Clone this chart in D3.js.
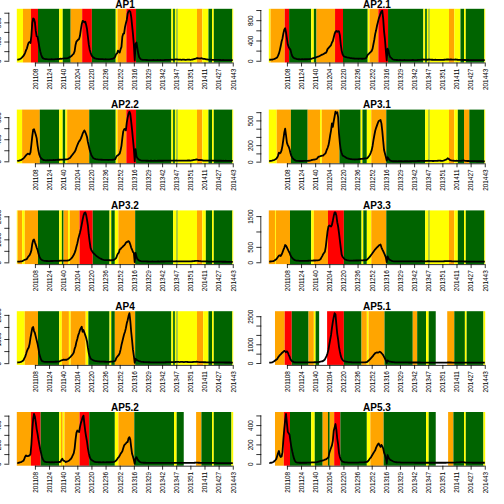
<!DOCTYPE html>
<html><head><meta charset="utf-8">
<script src="https://cdn.jsdelivr.net/npm/d3@7"></script>
<style>body{margin:0;background:#fff}svg{display:block}</style>
</head><body><svg id="c" width="504" height="504"></svg>
<script>
const panelNames = ["AP1","AP2.1","AP2.2","AP3.1","AP3.2","AP3.3","AP4","AP5.1","AP5.2","AP5.3"];
const xTickLabels = ["201108","201124","201140","201204","201220","201236","201252","201316","201329","201342","201347","201351","201411","201427","201443"];
const xTickIndex = [20,36,52,68,84,100,116,132,148,164,180,196,212,228,244];
const yTickStep = [200,200,200,100,500,500,500,500,100,100];
const bandColors = {O:"#FFA500",R:"#FF0000",G:"#006400",Y:"#FFFF00",W:null};

// weekly status colour runs (code + number of weeks)
const bands_AP1  = "Y7 O9 R8 G24 Y4 G9 O13 R11 G27 Y2 O10 R11 G40 Y2 G2 Y2 G1 Y22 O6 Y7 G4 Y2 G21 Y1";
const bands_AP21 = "Y2 O16 R5 G25 Y3 G3 O21 R9 G28 Y2 O10 R11 G40 Y2 G2 Y2 G1 Y22 O6 Y7 G4 Y2 G21 Y1";
const bands_AP22 = "Y6 O20 G22 Y4 G3 Y2 O25 G30 Y2 O10 R11 G40 Y2 G2 Y2 G1 Y22 O6 Y7 G4 Y2 G21 Y1";
const bands_AP31 = "Y9 O16 G19 O14 Y2 O20 G24 Y2 G5 Y5 O17 G44 Y4 G1 Y22 O6 Y4 G7 O6 G17 Y1";
const bands_AP32 = "Y1 O5 Y3 O15 G24 Y3 G2 O5 Y2 O11 R15 G19 Y2 G4 Y4 O19 G43 Y4 G1 Y22 O6 Y4 G7 Y2 G21 Y1";
const bands_AP33 = "O7 Y1 O16 G24 Y3 O16 R18 G20 Y2 G4 Y5 O17 G44 Y4 G1 Y22 O6 Y4 G7 Y2 G21 Y1";
const bands_AP4  = "Y9 O15 G24 Y3 O8 Y2 O17 Y3 G24 Y2 G4 O23 G41 Y2 G2 Y2 G1 Y22 O7 Y6 G4 Y2 G21 Y1";
const bands_AP51 = "W7 O11 R8 G19 O6 Y2 G4 W9 R19 G20 O6 Y2 O18 G32 O5 G10 Y3 G8 W13 O8 G12 Y2 G19 Y2";
const bands_AP52 = "O16 R11 G21 Y2 O2 Y2 O17 R11 G29 Y4 O18 G45 Y3 G8 W14 O6 G12 Y2 G20 Y2";
const bands_AP53 = "W7 O10 R7 G24 Y4 G9 O6 G2 O5 R7 G30 Y4 O15 G48 Y3 G8 W14 O6 G12 Y2 G20 Y2";

const values_AP1 = [25,25,30,35,45,60,80,100,130,170,
220,260,330,380,390,370,520,780,880,870,
800,620,510,500,400,290,200,130,80,55,
45,40,35,35,32,30,30,28,30,32,
30,28,30,33,35,35,38,36,40,42,
40,44,45,48,50,48,50,55,60,70,
80,95,110,130,150,200,330,400,420,440,
450,520,650,760,830,820,800,815,750,660,
500,340,230,170,120,90,70,60,50,45,
40,38,36,35,35,33,34,32,30,30,
32,30,30,28,30,32,35,38,40,50,
60,90,140,150,210,190,170,240,290,500,
560,570,700,780,850,980,1030,1040,1020,920,
740,560,340,5,350,380,260,150,80,50,
30,25,20,18,18,17,16,16,15,15,
15,14,15,15,16,15,14,14,15,16,
15,15,16,14,14,15,15,16,17,18,
18,20,20,22,25,25,22,20,24,28,
30,28,25,24,22,22,20,22,24,22,
20,20,22,25,24,22,20,22,25,30,
35,40,45,52,55,50,48,45,52,48,
42,40,38,35,30,28,25,24,22,22,
20,20,18,18,20,19,18,17,18,16,
16,15,15,16,15,14,14,15,14,14,
13,14,13,12,12];

const values_AP21 = [20,20,22,22,25,30,35,45,55,65,
100,145,210,290,380,440,540,610,640,560,
440,320,270,240,220,150,95,70,55,45,
40,35,32,30,30,28,28,30,30,28,
30,30,32,30,32,34,35,38,40,45,
50,55,60,65,75,80,87,95,105,115,
120,130,140,150,155,180,230,250,270,290,
310,360,390,460,530,575,590,570,585,580,
500,320,200,130,95,85,75,70,65,62,
60,55,52,50,48,46,45,44,42,42,
42,40,42,44,42,40,40,42,44,48,
60,100,130,140,160,175,195,240,330,420,
530,600,690,760,830,880,930,975,985,830,
580,420,200,5,240,200,110,70,60,40,
25,20,18,16,15,15,14,14,15,14,
14,13,14,15,14,13,13,14,14,13,
14,14,15,15,14,14,13,14,15,16,
16,18,20,22,24,25,24,22,20,20,
22,25,24,22,20,20,18,18,20,18,
17,17,18,18,17,16,17,18,20,22,
24,25,26,25,24,25,26,24,22,22,
24,25,22,20,18,18,17,16,16,15,
15,16,15,14,14,15,14,14,13,13,
14,13,13,14,13,12,12,13,12,12,
12,12,11,11,11];

const values_AP22 = [6,8,12,18,22,30,40,50,70,90,
110,125,138,132,126,160,300,450,570,580,
530,480,420,290,190,120,78,55,40,30,
22,20,18,18,20,18,19,20,22,20,
22,24,22,24,25,26,28,30,28,30,
32,30,32,34,33,35,36,40,45,55,
65,90,110,130,150,170,200,250,290,330,
360,380,410,450,500,530,560,530,490,440,
350,280,210,160,110,85,60,50,42,38,
36,34,32,30,30,28,28,27,26,26,
25,26,25,24,25,26,25,26,28,30,
32,40,78,100,110,125,140,200,280,420,
540,580,588,560,700,790,860,900,860,720,
570,400,230,0,220,90,60,40,30,20,
15,13,12,12,11,11,10,10,10,9,
9,10,10,9,9,10,10,9,9,10,
10,10,11,10,10,10,11,12,12,12,
12,13,14,14,13,12,12,13,14,14,
15,14,13,12,12,13,14,13,12,12,
13,14,14,15,16,15,14,15,18,22,
25,28,32,36,30,24,24,25,24,22,
15,14,13,14,14,13,12,13,12,12,
12,11,12,11,11,10,10,11,10,10,
10,10,9,10,9,9,10,9,9,9,
9,8,8,8,8];

const values_AP31 = [8,8,10,12,15,18,22,28,35,50,
74,110,100,110,140,195,270,350,400,320,
230,200,180,150,105,70,50,35,25,18,
12,10,9,9,8,8,9,8,8,9,
9,10,9,10,10,11,12,15,20,22,
25,25,28,30,35,50,60,62,66,70,
72,74,85,95,107,140,165,195,250,320,
380,464,423,490,547,607,585,600,540,340,
220,140,105,74,70,62,55,48,43,40,
35,33,30,30,28,28,27,26,27,28,
28,29,30,32,33,34,35,36,38,40,
40,41,55,68,85,110,140,190,260,320,
375,410,440,470,493,500,506,464,370,250,
140,100,60,12,53,35,25,12,8,6,
5,5,6,5,5,4,5,5,6,5,
5,4,4,5,5,6,5,5,4,5,
5,5,6,6,5,5,6,7,8,8,
8,9,10,10,9,8,8,9,10,10,
11,10,10,9,9,8,8,9,10,10,
10,11,12,12,11,10,10,12,15,20,
24,30,41,35,25,18,14,12,12,11,
10,10,11,10,10,9,9,10,11,12,
14,12,10,9,8,8,8,7,7,7,
6,6,6,6,6,5,5,5,5,5,
5,5,4,4,4];

const values_AP32 = [29,30,32,35,40,45,55,80,100,117,
130,150,220,270,310,400,520,800,960,990,
870,760,640,540,380,260,180,130,100,80,
70,62,60,58,58,56,55,56,58,60,
58,60,62,60,62,64,65,68,70,72,
72,74,73,74,75,74,75,80,88,100,
130,160,200,260,330,410,520,680,820,1000,
1150,1290,1450,1640,1850,2030,2140,2170,2060,1850,
1600,1200,900,630,530,470,410,370,340,300,
264,240,215,191,170,150,130,117,105,100,
98,95,92,92,90,90,88,90,92,100,
120,150,191,300,380,420,557,580,630,660,
704,740,777,850,880,900,924,880,777,640,
557,450,410,10,410,235,150,110,80,60,
50,45,42,40,40,38,38,36,36,35,
35,34,35,36,35,34,33,34,35,36,
36,35,36,38,37,36,36,37,38,40,
40,42,44,45,44,42,40,42,44,46,
48,46,44,42,40,40,42,44,42,40,
40,42,44,46,45,44,42,44,48,52,
55,58,60,62,60,58,55,52,48,45,
44,42,40,40,38,38,36,35,34,34,
33,32,32,31,30,30,29,29,28,28,
27,27,26,26,25,25,25,24,24,24,
23,23,22,22,22];

const values_AP33 = [23,25,28,32,35,40,55,80,100,140,
180,215,226,205,250,320,400,470,560,540,
480,420,360,310,230,180,140,110,85,70,
60,55,52,50,48,46,45,46,47,48,
46,45,47,48,50,50,52,52,55,56,
58,57,58,60,60,62,68,80,100,150,
200,260,300,340,500,750,1000,1160,1196,1180,
1160,1218,1350,1500,1620,1620,1520,1300,1160,950,
700,470,250,180,147,110,90,80,70,62,
58,56,56,55,55,56,58,56,57,58,
60,58,60,62,60,62,64,65,66,68,
72,90,120,150,180,226,260,300,340,380,
420,450,480,510,541,560,575,485,420,360,
300,230,160,5,190,120,90,70,55,40,
34,32,30,30,29,28,28,27,28,28,
27,26,27,28,27,26,26,27,28,28,
28,29,30,30,29,28,29,30,31,32,
32,33,34,33,32,31,30,31,32,33,
34,33,32,31,30,30,31,32,31,30,
30,31,32,32,31,30,30,31,33,35,
36,38,40,38,36,34,33,32,31,30,
30,29,29,28,28,27,27,27,26,26,
26,25,25,25,24,24,24,23,23,23,
23,23,22,22,22,22,21,21,21,21,
21,20,20,20,20];

const values_AP4 = [28,30,35,40,50,65,90,120,200,270,
380,500,590,650,800,1050,1250,1450,1500,1330,
1250,1100,950,800,600,390,250,150,90,70,
60,56,54,52,52,50,52,54,55,56,
55,54,56,58,58,60,60,62,80,100,
112,130,140,140,138,140,140,160,182,220,
252,290,330,380,440,600,700,880,1000,1150,
1250,1370,1450,1512,1302,1372,1270,1162,1050,900,
640,420,280,200,160,140,120,100,90,84,
80,75,70,68,66,65,64,62,60,58,
58,57,56,56,57,58,60,62,65,70,
80,100,200,252,300,340,420,560,750,900,
1050,1200,1300,1450,1650,1780,1950,2070,1750,1300,
950,560,300,10,182,140,112,100,84,75,
65,56,50,48,45,44,42,40,40,38,
38,36,36,35,35,34,34,33,33,34,
34,33,32,32,33,34,35,36,38,40,
42,44,45,44,42,40,42,44,46,48,
50,52,55,50,46,50,54,52,48,45,
50,55,52,48,44,42,40,42,45,48,
50,52,55,58,55,50,46,44,42,40,
40,38,38,37,36,36,35,35,34,34,
34,33,33,32,32,32,31,31,31,30,
30,30,29,29,29,28,28,28,28,27,
27,27,26,26,26];

const values_AP51 = [18,20,25,30,50,80,110,150,180,210,
300,360,420,460,520,560,610,650,620,575,
625,560,440,340,200,140,90,70,50,40,
36,35,34,33,32,32,33,34,35,34,
33,32,32,33,34,35,36,36,37,38,
38,39,40,40,40,40,54,60,70,85,
89,110,150,190,290,380,520,700,980,1250,
1500,1870,2200,2450,2660,2600,2050,1550,1250,850,
600,380,240,170,120,95,80,72,65,55,
50,45,42,40,38,37,36,36,35,35,
34,34,35,36,35,34,35,36,38,40,
45,60,110,150,200,250,300,350,420,470,
530,550,570,560,571,600,580,536,480,420,
330,240,143,5,143,95,80,70,60,54,
48,44,40,38,36,35,34,33,32,32,
31,31,30,30,30,29,29,29,28,28,
28,28,28,27,27,27,27,26,26,26,
26,26,25,25,25,25,25,24,24,24,
24,24,23,23,23,23,23,22,22,22,
22,22,22,22,21,21,21,21,21,21,
22,24,26,28,30,28,26,25,24,23,
23,22,22,22,21,21,21,21,20,20,
20,20,20,20,20,19,19,19,19,19,
19,19,18,18,18,18,18,18,18,18,
18,17,17,17,17];

const values_AP52 = [7,8,10,15,17,20,25,30,50,75,
86,78,78,83,85,100,200,350,460,517,
490,430,360,310,250,200,150,110,70,45,
30,22,18,17,16,16,15,15,14,15,
15,14,15,16,16,17,17,18,18,20,
40,52,34,30,25,17,22,25,28,35,
45,52,70,90,110,160,250,320,345,335,
330,380,420,450,483,500,414,340,280,230,
160,110,70,50,40,34,28,22,18,17,
16,16,15,15,15,14,14,15,15,14,
14,15,15,16,15,15,16,16,17,18,
20,25,34,45,60,69,85,103,115,130,
160,190,200,210,224,224,265,276,250,172,
103,75,40,0,55,69,50,34,25,18,
14,12,11,10,10,10,9,9,9,9,
9,9,8,8,8,9,9,8,8,8,
8,8,8,8,8,8,8,8,8,8,
8,8,8,9,9,9,9,8,8,8,
8,8,8,8,8,8,8,8,8,8,
8,8,8,8,8,8,8,8,8,8,
9,10,11,12,11,10,10,9,9,9,
9,9,9,9,8,8,8,8,8,8,
8,8,8,8,8,8,7,7,7,7,
7,7,7,7,7,7,7,7,7,7,
7,7,7,7,7];

const values_AP53 = [7,8,10,12,15,20,28,38,50,80,
110,132,85,70,75,120,250,360,450,515,
420,330,315,300,235,175,130,90,55,30,
18,14,12,11,10,10,10,9,10,10,
10,11,10,11,11,12,12,12,13,13,
13,13,14,14,16,18,22,25,28,30,
32,35,38,42,45,50,58,63,110,140,
165,190,237,341,376,411,350,260,200,110,
70,45,30,21,18,15,14,13,13,12,
12,12,11,11,11,11,12,12,12,12,
12,12,13,13,13,14,14,14,15,16,
18,20,28,40,55,63,80,95,110,125,
140,167,185,202,209,190,174,195,180,160,
115,90,60,0,90,63,50,40,35,30,
25,21,18,16,15,14,13,13,13,12,
12,12,12,12,11,11,11,11,11,11,
11,11,11,11,11,10,10,10,10,10,
10,10,10,10,10,10,10,10,10,10,
10,10,10,10,10,10,10,10,10,10,
10,10,10,10,10,10,10,10,10,10,
10,11,11,12,12,12,12,12,12,12,
12,12,13,13,14,14,15,16,17,17,
16,14,12,12,11,11,11,11,11,11,
10,10,10,10,10,10,10,10,10,10,
10,10,10,10,10];

const bandList = [bands_AP1,bands_AP21,bands_AP22,bands_AP31,bands_AP32,bands_AP33,bands_AP4,bands_AP51,bands_AP52,bands_AP53];
const seriesList = [values_AP1,values_AP21,values_AP22,values_AP31,values_AP32,values_AP33,values_AP4,values_AP51,values_AP52,values_AP53];

function parseRuns(s){
  const out=[]; let start=0;
  s.trim().split(/\s+/).forEach(t=>{const k=t[0],n=+t.slice(1);out.push({k,start,n});start+=n;});
  return out;
}

const FONT = "'Liberation Sans', Arial, Helvetica, sans-serif";
const svg = d3.select("#c");
const PW = 252, PH = 100.8;
const AX = 6.4;             // axis font size
const CW = AX*0.556;        // digit width

panelNames.forEach((name,p)=>{
  const c = p%2, r = Math.floor(p/2);
  const x0 = c*PW, y0 = r*PH;
  const vals = seriesList[p];
  const runs = parseRuns(bandList[p]);
  const n = vals.length;
  const nb = d3.sum(runs, d=>d.n);
  if (n!==245 || nb!==245) throw new Error(name+" length "+n+" / "+nb);

  const x = d3.scaleLinear().domain([-0.5, n-0.5]).range([x0+16.8, x0+233.2]);
  const lo = d3.min(vals), hi = d3.max(vals), pad = (hi-lo)*0.04;
  const y = d3.scaleLinear().domain([lo-pad, hi+pad]).range([y0+62.5, y0+8.8]);
  const g = svg.append("g");

  // coloured weekly bands (runs of equal status)
  g.append("g").selectAll("rect")
    .data(runs.filter(d=>bandColors[d.k]))
    .join("rect")
    .attr("x", d=>x(d.start-0.5))
    .attr("width", d=>x(d.start+d.n-0.5)-x(d.start-0.5))
    .attr("y", y.range()[1])
    .attr("height", y.range()[0]-y.range()[1])
    .attr("fill", d=>bandColors[d.k]);

  // series line
  g.append("path")
    .datum(vals)
    .attr("fill","none").attr("stroke","#000").attr("stroke-width",1.8)
    .attr("stroke-linejoin","round")
    .attr("d", d3.line().x((d,i)=>x(i)).y(d=>y(d)));

  // x axis
  const xa = g.append("g").attr("transform",`translate(0,${y0+62.5})`)
    .call(d3.axisBottom(x).tickValues(xTickIndex).tickFormat((d,i)=>xTickLabels[i]).tickSize(4).tickSizeOuter(0));
  xa.select(".domain").attr("d",`M${x(xTickIndex[0])},0.5H${x(xTickIndex[xTickIndex.length-1])}`)
    .attr("stroke","#000").attr("stroke-width",0.8);
  xa.selectAll("line").attr("stroke","#000").attr("stroke-width",0.8);
  xa.selectAll("text")
    .attr("font-family",FONT).attr("font-size",AX).attr("fill","#000")
    .attr("dy",null).attr("x",-6.2).attr("y",2.3)
    .attr("text-anchor","end").attr("transform","rotate(-90)");

  // y axis
  const dom = y.domain();
  const step = yTickStep[p];
  const yt = d3.range(Math.ceil(dom[0]/step)*step, dom[1]+1e-9, step);
  const axX = x0+16.8-7.5;
  const ya = g.append("g").attr("transform",`translate(${axX},0)`)
    .call(d3.axisLeft(y).tickValues(yt).tickFormat(d3.format("d")).tickSize(5).tickSizeOuter(0));
  ya.select(".domain").attr("d",`M-0.5,${y(yt[0])}V${y(yt[yt.length-1])}`)
    .attr("stroke","#000").attr("stroke-width",0.8);
  ya.selectAll("line").attr("stroke","#000").attr("stroke-width",0.8);
  let lastTop = null;
  ya.selectAll("text")
    .attr("font-family",FONT).attr("font-size",AX).attr("fill","#000")
    .attr("dy",null).attr("x",0).attr("y",-8.2)
    .attr("text-anchor","middle").attr("transform","rotate(-90)")
    .each(function(d){
      const half = String(d).length*CW/2;
      const yy = y(d);
      if (lastTop===null || (lastTop-(yy+half))>=8.0){ lastTop = yy-half; }
      else d3.select(this).remove();
    });
  xa.attr("font-family",null).attr("font-size",null);
  ya.attr("font-family",null).attr("font-size",null);

  // title
  g.append("text").attr("x",x0+125).attr("y",y0+7.6)
    .attr("text-anchor","middle").attr("font-family",FONT)
    .attr("font-weight","bold").attr("font-size",10).text(name);
});
</script></body></html>
